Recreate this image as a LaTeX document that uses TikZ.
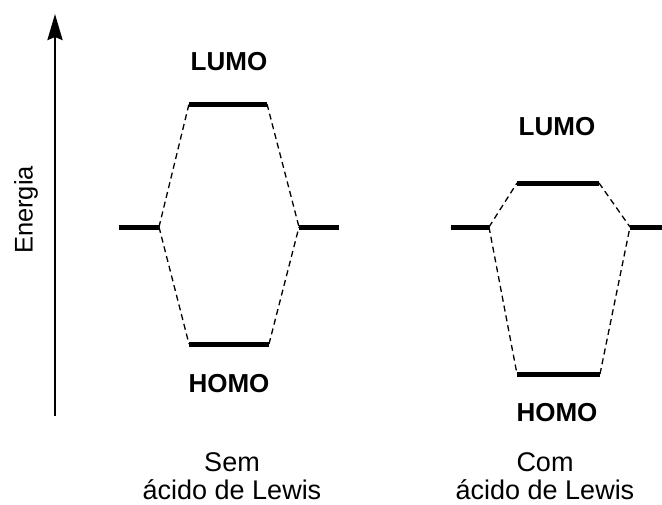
\documentclass[tikz,border=0pt]{standalone}
\usepackage{fontspec}
\setmainfont{Liberation Sans}
\usetikzlibrary{arrows.meta}
\begin{document}
\begin{tikzpicture}[x=1pt,y=-1pt,
    level/.style={line width=5pt},
    link/.style={line width=1.3pt,dash pattern=on 6pt off 4pt},
    orb/.style={font=\fontsize{26}{30}\selectfont\bfseries,inner sep=0pt},
    caption/.style={font=\fontsize{27}{28}\selectfont,align=center,inner sep=0pt,anchor=base}]
\useasboundingbox (0,0) rectangle (662,504);

% energy axis
\coordinate (ax0) at (55,416);
\coordinate (ax1) at (55,14);
\draw[line width=2.8pt,-{Stealth[length=26pt,width=15pt,inset=3pt]}] (ax0) -- (ax1);
\node[rotate=90,anchor=base,font=\fontsize{25.5}{28}\selectfont,inner sep=0pt] (energia) at (32.5,210) {Energia};

% without Lewis acid
\coordinate (aL1) at (119,227); \coordinate (aL2) at (159,227);
\coordinate (aR1) at (299,227); \coordinate (aR2) at (339,227);
\coordinate (aU1) at (189,104); \coordinate (aU2) at (267,104);
\coordinate (aH1) at (189,344); \coordinate (aH2) at (269,344);
\draw[level] (aL1) -- (aL2);
\draw[level] (aR1) -- (aR2);
\draw[level] (aU1) -- (aU2);
\draw[level] (aH1) -- (aH2);
\draw[link] (aL2) -- (aU1);
\draw[link] (aL2) -- (aH1);
\draw[link] (aU2) -- (aR1);
\draw[link] (aH2) -- (aR1);
\node[orb] (lumoA) at (229,62) {LUMO};
\node[orb] (homoA) at (229,384) {HOMO};
\node[caption] (capA) at (232,499) {Sem\\ácido de Lewis};

% with Lewis acid
\coordinate (bL1) at (451,227); \coordinate (bL2) at (489,227);
\coordinate (bR1) at (630,227); \coordinate (bR2) at (662,227);
\coordinate (bU1) at (517,183); \coordinate (bU2) at (599,183);
\coordinate (bH1) at (517,374); \coordinate (bH2) at (600,374);
\draw[level] (bL1) -- (bL2);
\draw[level] (bR1) -- (bR2);
\draw[level] (bU1) -- (bU2);
\draw[level] (bH1) -- (bH2);
\draw[link] (bL2) -- (bU1);
\draw[link] (bL2) -- (bH1);
\draw[link] (bU2) -- (bR1);
\draw[link] (bH2) -- (bR1);
\node[orb] (lumoB) at (557,127) {LUMO};
\node[orb] (homoB) at (557,413) {HOMO};
\node[caption] (capB) at (545,499) {Com\\ácido de Lewis};
\end{tikzpicture}
\end{document}
